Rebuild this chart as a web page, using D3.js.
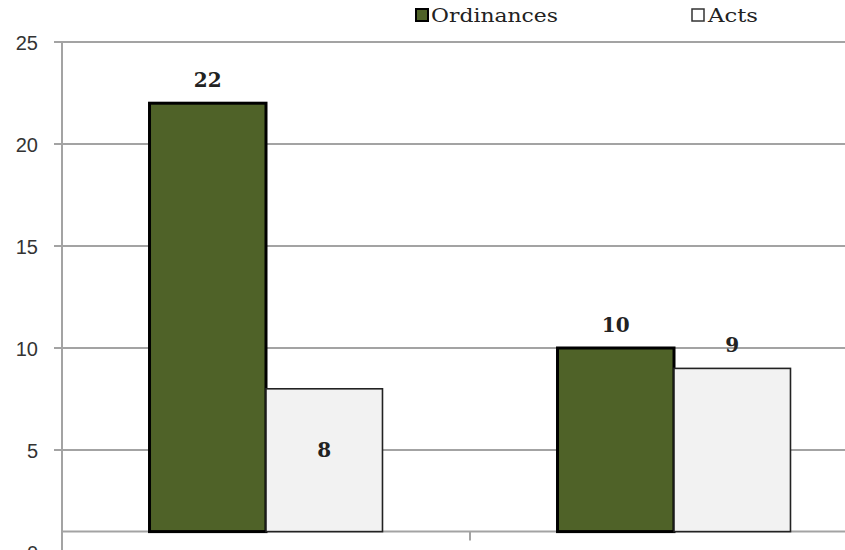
<!DOCTYPE html>
<html>
<head>
<meta charset="utf-8">
<script src="https://cdn.jsdelivr.net/npm/d3@7"></script>
<style>
  html, body { margin: 0; padding: 0; background: #fff; }
  svg { display: block; }
</style>
</head>
<body>
<svg id="chart" width="845" height="550"></svg>
<script>
// Chart data
const categories = ["Period 1", "Period 2"];
const seriesNames = ["Ordinances", "Acts"];
const ordinances = [22, 10];
const acts = [8, 9];
const yTicks = [0, 5, 10, 15, 20, 25];

(function () {
  const values = { "Ordinances": ordinances, "Acts": acts };

  const W = 845;
  const svg = d3.select("#chart");

  // Plot area; the right edge runs past the visible frame
  const plotLeft = 62, plotRight = 878, plotTop = 42, plotBottom = 552;
  const axisCross = 1; // category axis crosses the value axis here

  const y = d3.scaleLinear().domain([0, 25]).range([plotBottom, plotTop]);
  const x0 = d3.scaleBand().domain(categories).range([plotLeft, plotRight])
    .paddingInner(0.429).paddingOuter(0.2145);
  const x1 = d3.scaleBand().domain(seriesNames).range([0, x0.bandwidth()]);

  const gridColor = "#a3a3a3";

  // Horizontal gridlines
  svg.append("g").selectAll("line").data(yTicks.filter(t => t > 0)).join("line")
    .attr("x1", plotLeft - 8).attr("x2", W)
    .attr("y1", d => y(d)).attr("y2", d => y(d))
    .attr("stroke", gridColor).attr("stroke-width", 2);

  // Value axis line
  svg.append("line")
    .attr("x1", plotLeft).attr("x2", plotLeft)
    .attr("y1", y(25)).attr("y2", y(0))
    .attr("stroke", gridColor).attr("stroke-width", 2);

  // Category axis line and the tick between categories
  const yAxisCross = y(axisCross);
  svg.append("line")
    .attr("x1", plotLeft).attr("x2", W)
    .attr("y1", yAxisCross).attr("y2", yAxisCross)
    .attr("stroke", gridColor).attr("stroke-width", 2);
  const gap = x0.step() * x0.paddingInner();
  svg.append("g").selectAll("line").data(categories.slice(1)).join("line")
    .attr("x1", d => x0(d) - gap / 2).attr("x2", d => x0(d) - gap / 2)
    .attr("y1", yAxisCross).attr("y2", yAxisCross + 9)
    .attr("stroke", gridColor).attr("stroke-width", 2);

  // Value axis tick labels
  svg.append("g").selectAll("text").data(yTicks).join("text")
    .attr("x", 38).attr("y", d => y(d) + 1)
    .attr("text-anchor", "end").attr("dominant-baseline", "central")
    .attr("font-family", "Liberation Sans, Arial, sans-serif")
    .attr("font-size", 20).attr("fill", "#333")
    .text(d => d);

  // Bars
  const styles = {
    "Ordinances": { fill: "#4f6228", stroke: "#000", sw: 3 },
    "Acts": { fill: "#f2f2f2", stroke: "#222", sw: 1.6 }
  };
  const points = [];
  categories.forEach((c, i) => {
    seriesNames.forEach(s => points.push({ cat: c, series: s, value: values[s][i] }));
  });

  svg.append("g").selectAll("rect").data(points).join("rect")
    .attr("x", d => x0(d.cat) + x1(d.series))
    .attr("width", x1.bandwidth())
    .attr("y", d => y(d.value))
    .attr("height", d => yAxisCross - y(d.value))
    .attr("fill", d => styles[d.series].fill)
    .attr("stroke", d => styles[d.series].stroke)
    .attr("stroke-width", d => styles[d.series].sw);

  // Data labels: above the bar, except where the label sits inside
  const insideLabels = new Set(["Acts|Period 1"]);
  svg.append("g").selectAll("text").data(points).join("text")
    .attr("x", d => x0(d.cat) + x1(d.series) + x1.bandwidth() / 2)
    .attr("y", d => insideLabels.has(d.series + "|" + d.cat)
      ? (y(d.value) + yAxisCross) / 2 - 10
      : y(d.value) - 23)
    .attr("text-anchor", "middle").attr("dominant-baseline", "central")
    .attr("font-family", "DejaVu Serif, serif")
    .attr("font-size", 20).attr("font-weight", "bold").attr("fill", "#222")
    .text(d => d.value);

  // Legend
  const legend = [
    { name: "Ordinances", x: 416, textX: 431, len: 127 },
    { name: "Acts", x: 692, textX: 708, len: 50 }
  ];
  const lg = svg.append("g");
  legend.forEach(l => {
    const st = styles[l.name];
    const isActs = l.name === "Acts";
    lg.append("rect")
      .attr("x", l.x).attr("y", 9).attr("width", 12).attr("height", 12)
      .attr("fill", isActs ? "#fff" : st.fill)
      .attr("stroke", isActs ? "#333" : "#000")
      .attr("stroke-width", isActs ? 1.5 : 2);
    lg.append("text")
      .attr("x", l.textX).attr("y", 22)
      .attr("font-family", "DejaVu Serif, serif")
      .attr("font-size", 18).attr("fill", "#222")
      .attr("textLength", l.len).attr("lengthAdjust", "spacingAndGlyphs")
      .text(l.name);
  });
})();
</script>
</body>
</html>
